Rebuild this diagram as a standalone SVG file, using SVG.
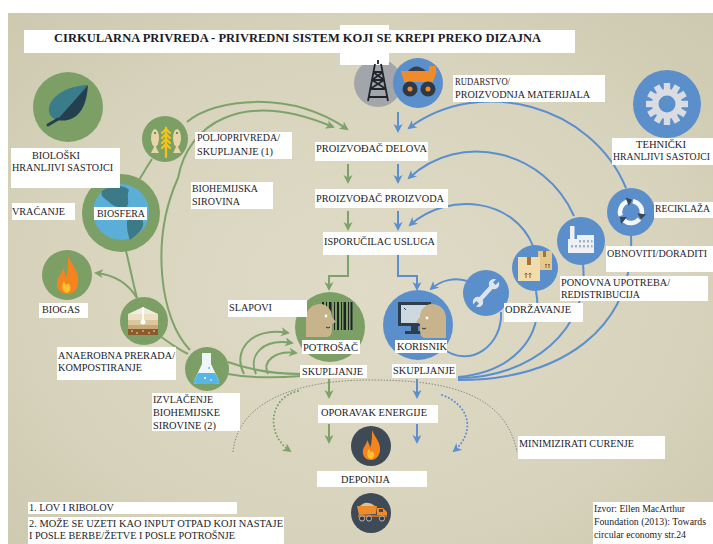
<svg xmlns="http://www.w3.org/2000/svg" width="713" height="544" viewBox="0 0 713 544">
<defs>
  <radialGradient id="bg" cx="50%" cy="52%" r="75%">
    <stop offset="0" stop-color="#dfdbc7"/>
    <stop offset="0.6" stop-color="#d7d3bc"/>
    <stop offset="1" stop-color="#ccc8ae"/>
  </radialGradient>
  <marker id="ag" markerUnits="userSpaceOnUse" markerWidth="10" markerHeight="10" refX="7" refY="4.5" orient="auto">
    <path d="M0,0 L9,4.5 L0,9 L2.5,4.5 Z" fill="#7ea36a"/>
  </marker>
  <marker id="ab" markerUnits="userSpaceOnUse" markerWidth="10" markerHeight="10" refX="7" refY="4.5" orient="auto">
    <path d="M0,0 L9,4.5 L0,9 L2.5,4.5 Z" fill="#5b8fcf"/>
  </marker>
  <g id="recArrow">
    <path d="M-10.3,3.8 A11,11 0 0 1 -3.8,-10.3" fill="none" stroke="#f4f6f8" stroke-width="4.5"/>
    <path d="M1.2,-12.2 L-5.4,-14.4 L-2.2,-6.2 Z" fill="#3d4650"/>
  </g>
  <rect id="tooth" x="-3.2" y="-21" width="6.4" height="8" fill="#d9dde1"/>
</defs>
<style>
  .box{fill:#ffffff}
  .t{font-family:"Liberation Serif","Times New Roman",serif;font-size:11px;fill:#1c1c28}
  .src{font-size:10.2px}
  .g{fill:none;stroke:#7ea36a;stroke-width:2}
  .b{fill:none;stroke:#5b8fcf;stroke-width:2}
  .gc{fill:#7c9f66}
  .bc{fill:#5a8fcb}
  .dc{fill:#3f4a57}
  .dotg{fill:none;stroke:#7ea36a;stroke-width:2;stroke-dasharray:0.1 3.5;stroke-linecap:round}
  .dotb{fill:none;stroke:#5b8fcf;stroke-width:2;stroke-dasharray:0.1 3.5;stroke-linecap:round}
  .leak{fill:none;stroke:#8a8a80;stroke-width:1;stroke-dasharray:1.5 1.5}
</style>

<!-- page and panel -->
<rect width="713" height="544" fill="#ffffff"/>
<rect x="8" y="13" width="705" height="531" fill="url(#bg)"/>

<!-- connectors -->
<g id="connectors">
  <!-- biological loop (green) -->
  <path class="g" d="M139,180 C144,172 148,165 152,159"/>
  <path class="g" d="M187,122 C215,98 290,90 347,129" marker-end="url(#ag)"/>
  <path class="g" d="M190,350 C160,320 150,240 178,178 C188,125 240,88 333,127" marker-end="url(#ag)"/>
  <path class="g" d="M126,251 C130,267 133,283 137,298"/>
  <path class="g" d="M137,298 C128,283 115,275 96,273" marker-end="url(#ag)"/>
  <path class="g" d="M160,336 C172,345 180,350 188,354"/>
  <path class="g" d="M228,362 C250,370 275,374 301,374"/>
  <path class="g" d="M228,374 C250,378 275,378 301,376"/>
  <path class="g" d="M244,374 C232,352 250,326 288,333" marker-end="url(#ag)"/>
  <path class="g" d="M256,374 C248,356 262,338 292,343" marker-end="url(#ag)"/>
  <path class="g" d="M268,374 C262,362 274,350 296,353" marker-end="url(#ag)"/>
  <line class="g" x1="348" y1="164" x2="348" y2="182" marker-end="url(#ag)"/>
  <line class="g" x1="348" y1="211" x2="348" y2="229" marker-end="url(#ag)"/>
  <path class="g" d="M348,255 L348,276 L329,276 L329,289" marker-end="url(#ag)"/>
  <line class="g" x1="329" y1="379" x2="329" y2="397" marker-end="url(#ag)"/>
  <line class="g" x1="329" y1="424" x2="329" y2="442" marker-end="url(#ag)"/>
  <path class="dotg" d="M298,391 C268,398 266,435 290,451" marker-end="url(#ag)"/>

  <!-- technical loop (blue) -->
  <line class="b" x1="398" y1="112" x2="398" y2="131" marker-end="url(#ab)"/>
  <line class="b" x1="398" y1="164" x2="398" y2="182" marker-end="url(#ab)"/>
  <line class="b" x1="398" y1="211" x2="398" y2="229" marker-end="url(#ab)"/>
  <path class="b" d="M398,255 L398,276 L417,276 L417,289" marker-end="url(#ab)"/>
  <line class="b" x1="417" y1="379" x2="417" y2="397" marker-end="url(#ab)"/>
  <line class="b" x1="417" y1="424" x2="417" y2="442" marker-end="url(#ab)"/>
  <path class="b" d="M626,188 C592,105 480,75 409,128" marker-end="url(#ab)"/>
  <path class="b" d="M574,216 C545,150 460,130 409,178" marker-end="url(#ab)"/>
  <path class="b" d="M533,246 C515,200 450,190 410,225" marker-end="url(#ab)"/>
  <path class="b" d="M467,281 C455,277 441,280 431,289" marker-end="url(#ab)"/>
  <path class="b" d="M501,312 C503,345 470,370 442,348"/>
  <path class="b" d="M458,377 C510,372 545,340 536,291"/>
  <path class="b" d="M458,378 C530,378 590,330 583,264"/>
  <path class="b" d="M458,380 C560,380 635,330 631,235"/>
  <path class="dotb" d="M442,395 C470,405 476,432 454,451" marker-end="url(#ab)"/>

  <!-- leakage boundary -->
  <path class="leak" d="M233,452 C238,400 300,380 370,380 C440,380 505,390 517,452"/>
</g>

<!-- biosphere -->
<g id="node-biosfera">
  <circle class="gc" cx="121" cy="213" r="39"/>
  <circle cx="121" cy="212" r="28" fill="#5aaed8"/>
  <path d="M102,191 C110,185 124,184 129,190 C126,196 130,201 127,207 C120,209 113,206 109,202 C104,198 100,196 102,191 Z" fill="#3d7a87"/>
  <path d="M128,214 C136,212 145,218 143,226 C141,232 135,236 130,240 C127,232 126,224 128,214 Z" fill="#3d7a87"/>
  <rect class="box" x="94" y="207" width="53" height="13"/>
  <text class="t" x="97" y="217" textLength="48" lengthAdjust="spacingAndGlyphs">BIOSFERA</text>
</g>

<!-- biological nutrients (leaf) -->
<g id="node-bioloski">
  <circle class="gc" cx="68" cy="107" r="35"/>
  <path d="M88,85 C72,85 51,94 49,108 C48,113 51,118 57,120 Z" fill="#3a7c89"/>
  <path d="M88,85 C87,100 83,113 73,118 C67,121 62,121 57,120 Z" fill="#243f4f"/>
  <path d="M58,119 L48,125" stroke="#243f4f" stroke-width="3" stroke-linecap="round"/>
  <rect class="box" x="11" y="148" width="109" height="40"/>
  <text class="t" x="32" y="159" textLength="48" lengthAdjust="spacingAndGlyphs">BIOLOŠKI</text>
  <text class="t" x="12" y="171" textLength="101" lengthAdjust="spacingAndGlyphs">HRANLJIVI SASTOJCI</text>
</g>

<g id="label-vracanje">
  <rect class="box" x="12" y="203" width="63" height="17"/>
  <text class="t" x="12" y="215" textLength="53" lengthAdjust="spacingAndGlyphs">VRAĆANJE</text>
</g>

<!-- farming / collection -->
<g id="node-poljoprivreda">
  <circle class="gc" cx="165" cy="139" r="23"/>
  <ellipse cx="155" cy="138" rx="4" ry="9" fill="#e6d5a8"/>
  <path d="M155,145 L151,153 L159,153 Z" fill="#e6d5a8"/>
  <circle cx="155" cy="133" r="0.9" fill="#555"/>
  <ellipse cx="177" cy="138" rx="4" ry="9" fill="#e6d5a8"/>
  <path d="M177,145 L173,153 L181,153 Z" fill="#e6d5a8"/>
  <circle cx="177" cy="133" r="0.9" fill="#555"/>
  <g fill="none" stroke="#f2c418" stroke-width="2.3" stroke-linecap="round" stroke-linejoin="round">
    <line x1="166" y1="128" x2="166" y2="157"/>
    <path d="M162,133 L166,129 L170,133"/>
    <path d="M162,138 L166,134 L170,138"/>
    <path d="M162,143 L166,139 L170,143"/>
    <path d="M162,148 L166,144 L170,148"/>
  </g>
  <rect class="box" x="195" y="132" width="97" height="27"/>
  <text class="t" x="197" y="141" textLength="83" lengthAdjust="spacingAndGlyphs">POLJOPRIVREDA/</text>
  <text class="t" x="197" y="155" textLength="76" lengthAdjust="spacingAndGlyphs">SKUPLJANJE (1)</text>
</g>

<g id="label-biohemijska">
  <rect class="box" x="191" y="182" width="82" height="27"/>
  <text class="t" x="192" y="192" textLength="66" lengthAdjust="spacingAndGlyphs">BIOHEMIJSKA</text>
  <text class="t" x="192" y="205" textLength="48" lengthAdjust="spacingAndGlyphs">SIROVINA</text>
</g>

<!-- biogas -->
<g id="node-biogas">
  <circle class="gc" cx="67" cy="275" r="25"/>
  <path d="M68,256 C72,266 80,272 78,284 C77,291 72,294 67,294 C60,294 56,288 57,282 C58,276 62,274 63,268 C65,272 66,276 66,278 C68,272 68,264 68,256 Z" fill="#f5841f"/>
  <path d="M67,293 C62,292 61,286 64,281 C65,285 67,286 68,283 C71,286 72,291 67,293 Z" fill="#fcc12f"/>
  <rect class="box" x="39" y="303" width="49" height="15"/>
  <text class="t" x="42" y="313" textLength="38" lengthAdjust="spacingAndGlyphs">BIOGAS</text>
</g>

<!-- anaerobic digestion -->
<g id="node-anaerobna">
  <circle class="gc" cx="144" cy="321" r="24"/>
  <path d="M128,314 L143,307 L158,314 Z" fill="#f1ece0"/>
  <rect x="128" y="314" width="30" height="6" fill="#ebe0c4"/>
  <rect x="128" y="320" width="30" height="5" fill="#dac79c"/>
  <rect x="128" y="325" width="30" height="4" fill="#c7a877"/>
  <rect x="128" y="329" width="30" height="6" fill="#8d5a2e"/>
  <g fill="#f3ead6"><circle cx="132" cy="331" r="0.8"/><circle cx="137" cy="333" r="0.8"/><circle cx="143" cy="331" r="0.8"/><circle cx="149" cy="333" r="0.8"/><circle cx="154" cy="331" r="0.8"/></g>
  <line x1="143" y1="307" x2="143" y2="320" stroke="#ffffff" stroke-width="1.6"/>
  <circle cx="143" cy="322" r="2.5" fill="#ffffff"/>
  <rect class="box" x="57" y="347" width="119" height="33"/>
  <text class="t" x="58" y="359" textLength="117" lengthAdjust="spacingAndGlyphs">ANAEROBNA PRERADA/</text>
  <text class="t" x="58" y="371" textLength="84" lengthAdjust="spacingAndGlyphs">KOMPOSTIRANJE</text>
</g>

<!-- biochemical extraction -->
<g id="node-izvlacenje">
  <circle class="gc" cx="207" cy="369" r="22"/>
  <path d="M202,353 L211,353 L211,364 L219,381 Q220,384 216,384 L197,384 Q193,384 194,381 L202,364 Z" fill="#eef6fa"/>
  <path d="M198,373 L215,373 L219,381 Q220,384 216,384 L197,384 Q193,384 194,381 Z" fill="#56b7e6"/>
  <circle cx="209" cy="368" r="1.2" fill="#8fcdee"/>
  <circle cx="205" cy="378" r="1" fill="#ffffff"/>
  <circle cx="211" cy="380" r="0.8" fill="#ffffff"/>
  <rect class="box" x="152" y="393" width="88" height="38"/>
  <text class="t" x="153" y="403" textLength="60" lengthAdjust="spacingAndGlyphs">IZVLAČENJE</text>
  <text class="t" x="153" y="416" textLength="67" lengthAdjust="spacingAndGlyphs">BIOHEMIJSKE</text>
  <text class="t" x="153" y="429" textLength="63" lengthAdjust="spacingAndGlyphs">SIROVINE (2)</text>
</g>

<!-- mining / materials -->
<g id="node-rudarstvo">
  <circle cx="378" cy="83" r="24" fill="#a2a6aa"/>
  <rect x="340" y="25" width="49" height="40" fill="#ffffff"/>
  <g fill="none" stroke="#1f252b" stroke-width="1.8">
    <path d="M375,64 L368,101 M381,64 L388,101 M373,72 L383,72 M372,80 L384,80 M370,89 L386,89 M369,97 L387,97 M373,72 L384,80 M383,72 L372,80 M372,80 L386,89 M384,80 L370,89"/>
    <line x1="378" y1="60" x2="378" y2="64"/>
  </g>
  <circle class="bc" cx="418" cy="83" r="25"/>
  <path d="M408,71 Q416,62 426,71 Z" fill="#3a3f45"/>
  <path d="M401,71 L437,71 L433,82 L404,82 Z" fill="#f08b2c"/>
  <rect x="429" y="66" width="7" height="6" fill="#f08b2c"/>
  <circle cx="410" cy="89" r="7.5" fill="#2e3945"/>
  <circle cx="410" cy="89" r="2.5" fill="#f08b2c"/>
  <circle cx="428" cy="89" r="7.5" fill="#2e3945"/>
  <circle cx="428" cy="89" r="2.5" fill="#f08b2c"/>
  <rect class="box" x="453" y="75" width="152" height="27"/>
  <text class="t" x="455" y="85" textLength="55" lengthAdjust="spacingAndGlyphs">RUDARSTVO/</text>
  <text class="t" x="455" y="98" textLength="135" lengthAdjust="spacingAndGlyphs">PROIZVODNJA MATERIJALA</text>
</g>

<!-- technical nutrients (gear) -->
<g id="node-tehnicki">
  <circle class="bc" cx="667" cy="104" r="34"/>
  <g transform="translate(667,104)">
    <use href="#tooth"/><use href="#tooth" transform="rotate(30)"/><use href="#tooth" transform="rotate(60)"/>
    <use href="#tooth" transform="rotate(90)"/><use href="#tooth" transform="rotate(120)"/><use href="#tooth" transform="rotate(150)"/>
    <use href="#tooth" transform="rotate(180)"/><use href="#tooth" transform="rotate(210)"/><use href="#tooth" transform="rotate(240)"/>
    <use href="#tooth" transform="rotate(270)"/><use href="#tooth" transform="rotate(300)"/><use href="#tooth" transform="rotate(330)"/>
    <circle r="15" fill="#d9dde1"/>
    <circle r="8.5" fill="#5a8fcb"/>
  </g>
  <rect class="box" x="612" y="138" width="101" height="27"/>
  <text class="t" x="636" y="148" textLength="50" lengthAdjust="spacingAndGlyphs">TEHNIČKI</text>
  <text class="t" x="613" y="160" style="font-size:9.7px" textLength="97" lengthAdjust="spacingAndGlyphs">HRANLJIVI SASTOJCI</text>
</g>

<!-- recycling -->
<g id="node-reciklaza">
  <circle class="bc" cx="631" cy="212" r="24"/>
  <g transform="translate(631,212)">
    <use href="#recArrow"/>
    <use href="#recArrow" transform="rotate(120)"/>
    <use href="#recArrow" transform="rotate(240)"/>
  </g>
  <rect class="box" x="654" y="202" width="59" height="16"/>
  <text class="t" x="655" y="212" style="font-size:9.8px" textLength="55" lengthAdjust="spacingAndGlyphs">RECIKLAŽA</text>
</g>

<!-- refurbish / remanufacture -->
<g id="node-obnoviti">
  <circle class="bc" cx="581" cy="241" r="24"/>
  <rect x="570" y="226" width="4.5" height="14" fill="#eef0f3"/>
  <path d="M568,253 L568,239 L577,239 L577,235 L594,235 L594,253 Z" fill="#eef0f3"/>
  <g fill="#9fb4cc">
    <rect x="579" y="240" width="2" height="2.5"/><rect x="583" y="240" width="2" height="2.5"/><rect x="587" y="240" width="2" height="2.5"/><rect x="591" y="240" width="1.6" height="2.5"/>
    <rect x="571" y="245" width="2" height="2.5"/><rect x="575" y="245" width="2" height="2.5"/><rect x="579" y="245" width="2" height="2.5"/><rect x="583" y="245" width="2" height="2.5"/><rect x="587" y="245" width="2" height="2.5"/><rect x="591" y="245" width="1.6" height="2.5"/>
  </g>
  <rect class="box" x="606" y="246" width="107" height="26"/>
  <text class="t" x="607" y="257" style="font-size:10.3px" textLength="100" lengthAdjust="spacingAndGlyphs">OBNOVITI/DORADITI</text>
</g>

<!-- reuse / redistribution -->
<g id="node-ponovna">
  <circle class="bc" cx="535" cy="268" r="23"/>
  <rect x="538" y="251" width="14" height="19" fill="#e4c98f"/>
  <rect x="543" y="251" width="3" height="6" fill="#a8733a"/>
  <rect x="518" y="257" width="22" height="24" fill="#f0dcac"/>
  <rect x="527" y="257" width="4" height="8" fill="#a8733a"/>
  <g stroke="#8a5a2b" stroke-width="0.9" fill="none">
    <path d="M526,278 L526,273 M524.5,274.5 L526,273 L527.5,274.5 M530,278 L530,273 M528.5,274.5 L530,273 L531.5,274.5"/>
    <path d="M546,268 L546,264 M545,265 L546,264 L547,265 M549,268 L549,264 M548,265 L549,264 L550,265"/>
  </g>
  <rect class="box" x="560" y="276" width="148" height="25"/>
  <text class="t" x="561" y="286" textLength="109" lengthAdjust="spacingAndGlyphs">PONOVNA UPOTREBA/</text>
  <text class="t" x="561" y="298" textLength="79" lengthAdjust="spacingAndGlyphs">REDISTRIBUCIJA</text>
</g>

<!-- maintenance -->
<g id="node-odrzavanje">
  <circle class="bc" cx="486" cy="293" r="23"/>
  <g transform="translate(486,293) rotate(-48)" fill="#dfe4ea">
    <rect x="-10" y="-2.2" width="20" height="4.4" rx="1.5"/>
    <circle cx="-12" cy="0" r="5.2"/>
    <circle cx="12" cy="0" r="5.2"/>
    <rect x="-18.5" y="-1.8" width="6" height="3.6" fill="#5a8fcb"/>
    <rect x="12.5" y="-1.8" width="6" height="3.6" fill="#5a8fcb"/>
  </g>
  <rect class="box" x="504" y="303" width="79" height="19"/>
  <text class="t" x="505" y="313" textLength="66" lengthAdjust="spacingAndGlyphs">ODRŽAVANJE</text>
</g>

<!-- user -->
<g id="node-korisnik">
  <circle class="bc" cx="418" cy="325" r="35"/>
  <rect x="398" y="302" width="33" height="24" fill="#2d3e4d"/>
  <rect x="401" y="305" width="27" height="18" fill="#cdd8e0"/>
  <rect x="411" y="326" width="7" height="5" fill="#2d3e4d"/>
  <rect x="405" y="331" width="19" height="3" fill="#2d3e4d"/>
  <path d="M404,308 L406,310" stroke="#2d3e4d" stroke-width="1"/>
  <path d="M446,338 L446,318 C446,309 439,304 432,304 C425,304 420,310 420,317 L416,322 L420,324 L420,330 C420,335 422,338 425,338 Z" fill="#c8b48c"/>
  <circle cx="427" cy="318" r="1.4" fill="#ffffff"/>
  <path d="M422,328 Q424,330 426,328" stroke="#3a3020" stroke-width="1" fill="none"/>
  <rect class="box" x="395" y="340" width="52" height="13"/>
  <text class="t" x="397" y="350" textLength="50" lengthAdjust="spacingAndGlyphs">KORISNIK</text>
  <rect class="box" x="392" y="364" width="64" height="14"/>
  <text class="t" x="393" y="374" textLength="62" lengthAdjust="spacingAndGlyphs">SKUPLJANJE</text>
</g>

<!-- consumer -->
<g id="node-potrosac">
  <circle class="gc" cx="330" cy="327" r="35"/>
  <g fill="#1f2326">
    <rect x="322" y="302" width="2" height="28"/><rect x="326" y="302" width="1" height="28"/><rect x="329" y="302" width="2.5" height="28"/>
    <rect x="334" y="302" width="1" height="28"/><rect x="337" y="302" width="2" height="28"/><rect x="341" y="302" width="1" height="28"/>
    <rect x="343.5" y="302" width="2.5" height="28"/><rect x="348" y="302" width="1" height="28"/><rect x="350.5" y="302" width="2" height="28"/>
  </g>
  <path d="M306,337 L306,318 C306,309 313,304 320,304 C327,304 332,310 332,317 L336,322 L332,324 L332,330 C332,334 330,337 327,337 Z" fill="#c8b48c"/>
  <circle cx="326" cy="316" r="1.4" fill="#ffffff"/>
  <path d="M326,327 Q328,329 330,327" stroke="#3a3020" stroke-width="1" fill="none"/>
  <rect class="box" x="302" y="340" width="58" height="14"/>
  <text class="t" x="303" y="351" textLength="55" lengthAdjust="spacingAndGlyphs">POTROŠAČ</text>
  <rect class="box" x="300" y="365" width="67" height="13"/>
  <text class="t" x="302" y="375" textLength="61" lengthAdjust="spacingAndGlyphs">SKUPLJANJE</text>
</g>

<g id="label-slapovi">
  <rect class="box" x="228" y="300" width="79" height="17"/>
  <text class="t" x="229" y="311" textLength="43" lengthAdjust="spacingAndGlyphs">SLAPOVI</text>
</g>

<!-- value chain -->
<g id="node-proizvodjac-delova">
  <rect class="box" x="315" y="142" width="113" height="19"/>
  <text class="t" x="316" y="152" textLength="111" lengthAdjust="spacingAndGlyphs">PROIZVOĐAČ DELOVA</text>
</g>
<g id="node-proizvodjac-proizvoda">
  <rect class="box" x="315" y="189" width="133" height="19"/>
  <text class="t" x="316" y="202" textLength="128" lengthAdjust="spacingAndGlyphs">PROIZVOĐAČ PROIZVODA</text>
</g>
<g id="node-isporucilac">
  <rect class="box" x="323" y="232" width="114" height="23"/>
  <text class="t" x="324" y="245" textLength="111" lengthAdjust="spacingAndGlyphs">ISPORUČILAC USLUGA</text>
</g>

<!-- energy recovery -->
<g id="node-oporavak">
  <rect class="box" x="318" y="405" width="120" height="18"/>
  <text class="t" x="321" y="416" textLength="106" lengthAdjust="spacingAndGlyphs">OPORAVAK ENERGIJE</text>
  <circle class="dc" cx="371" cy="446" r="20"/>
  <path d="M372,430 C375,438 381,442 380,451 C379,457 375,460 371,460 C365,460 362,455 363,450 C364,446 367,444 367,440 C369,443 370,446 370,448 C372,443 372,436 372,430 Z" fill="#f5841f"/>
  <path d="M371,459 C367,458 366,453 369,449 C370,452 371,453 372,451 C375,453 375,458 371,459 Z" fill="#fcc12f"/>
</g>

<!-- landfill -->
<g id="node-deponija">
  <rect class="box" x="317" y="471" width="110" height="16"/>
  <text class="t" x="341" y="483" textLength="49" lengthAdjust="spacingAndGlyphs">DEPONIJA</text>
  <circle class="dc" cx="371" cy="513" r="20"/>
  <path d="M359,507 Q366,499 375,506 Z" fill="#d9c49a"/>
  <path d="M357,506 L377,506 L376,514 L359,515 Z" fill="#f08b2c"/>
  <path d="M377,508 L383,508 L387,512 L387,517 L377,517 Z" fill="#f08b2c"/>
  <rect x="379" y="509" width="4" height="3" fill="#3f4a57"/>
  <rect x="358" y="515" width="29" height="2" fill="#c86e1e"/>
  <g fill="#2e3945" stroke="#cfd6dc" stroke-width="0.8">
    <circle cx="362" cy="518.5" r="2.6"/><circle cx="369" cy="518.5" r="2.6"/><circle cx="382" cy="518.5" r="2.6"/>
  </g>
</g>

<g id="label-curenje">
  <rect class="box" x="518" y="436" width="147" height="23"/>
  <text class="t" x="519" y="447" textLength="115" lengthAdjust="spacingAndGlyphs">MINIMIZIRATI CURENJE</text>
</g>

<!-- title -->
<g id="title">
  <rect class="box" x="24" y="30" width="551" height="23"/>
  <text x="54" y="42" font-family="'Liberation Serif','Times New Roman',serif" font-size="12" font-weight="bold" fill="#1c1c28" textLength="487" lengthAdjust="spacingAndGlyphs">CIRKULARNA PRIVREDA - PRIVREDNI SISTEM KOJI SE KREPI PREKO DIZAJNA</text>
</g>

<!-- notes and source -->
<g id="notes">
  <rect class="box" x="28" y="502" width="209" height="12"/>
  <text class="t" x="29" y="511" textLength="85" lengthAdjust="spacingAndGlyphs">1. LOV I RIBOLOV</text>
  <rect class="box" x="28" y="517" width="256" height="27"/>
  <text class="t" x="29" y="527" textLength="254" lengthAdjust="spacingAndGlyphs">2. MOŽE SE UZETI KAO INPUT OTPAD KOJI NASTAJE</text>
  <text class="t" x="29" y="539" textLength="206" lengthAdjust="spacingAndGlyphs">I POSLE BERBE/ŽETVE I POSLE POTROŠNJE</text>
</g>
<g id="source">
  <rect class="box" x="593" y="502" width="120" height="42"/>
  <text class="t src" x="594" y="512" textLength="91" lengthAdjust="spacingAndGlyphs">Izvor: Ellen MacArthur</text>
  <text class="t src" x="594" y="525" textLength="112" lengthAdjust="spacingAndGlyphs">Foundation (2013): Towards</text>
  <text class="t src" x="594" y="538" textLength="92" lengthAdjust="spacingAndGlyphs">circular economy str.24</text>
</g>
</svg>
